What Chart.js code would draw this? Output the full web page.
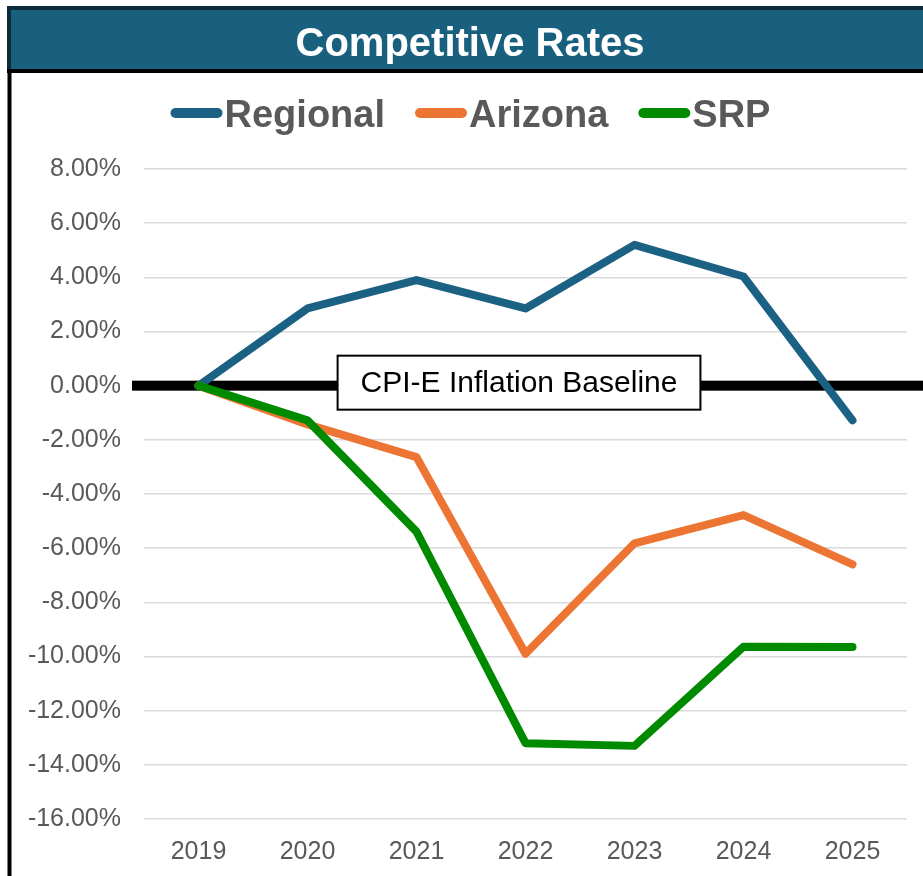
<!DOCTYPE html>
<html>
<head>
<meta charset="utf-8">
<script src="https://cdn.jsdelivr.net/npm/chart.js@4/dist/chart.umd.min.js"></script>
<style>
  html, body { margin: 0; padding: 0; background: #ffffff; }
  canvas { display: block; }
</style>
</head>
<body>
<canvas id="c" width="923" height="876"></canvas>
<script>
// ---- Data ----
const categories = ['2019', '2020', '2021', '2022', '2023', '2024', '2025'];
const regional = [0, 2.85, 3.9, 2.85, 5.2, 4.03, -1.28];
const arizona  = [0, -1.43, -2.64, -9.9, -5.82, -4.78, -6.6];
const srp      = [0, -1.28, -5.39, -13.2, -13.3, -9.64, -9.65];
const yTicks   = [8, 6, 4, 2, 0, -2, -4, -6, -8, -10, -12, -14, -16];
const titleText = 'Competitive Rates';
const baselineLabel = 'CPI-E Inflation Baseline';

const FONT = '"Liberation Sans", Arial, sans-serif';
const GRAY = '#595959';

const frame = {
  id: 'frame',
  beforeDraw(chart) {
    const ctx = chart.ctx;
    const W = chart.width, H = chart.height;
    ctx.save();
    ctx.fillStyle = '#ffffff';
    ctx.fillRect(0, 0, W, H);
    // title band
    ctx.fillStyle = '#0d2b39';
    ctx.fillRect(7, 6, W - 7, 64);
    ctx.fillStyle = '#19607f';
    ctx.fillRect(11, 10, W - 11, 59);
    ctx.fillStyle = '#000000';
    ctx.fillRect(7, 69, W - 7, 4);
    // left border
    ctx.fillRect(7.5, 70, 4, H - 70);
    // title text
    ctx.fillStyle = '#ffffff';
    ctx.font = 'bold 40px ' + FONT;
    ctx.textAlign = 'center';
    ctx.textBaseline = 'alphabetic';
    ctx.fillText(titleText, 470, 56);
    ctx.restore();
  },
  beforeDatasetsDraw(chart) {
    const ctx = chart.ctx;
    const y0 = chart.scales.y.getPixelForValue(0);
    const a = chart.chartArea;
    ctx.save();
    ctx.fillStyle = '#000000';
    ctx.fillRect(a.left - 12, y0 - 5, chart.width - (a.left - 12), 10);
    ctx.restore();
  },
  afterDatasetsDraw(chart) {
    const ctx = chart.ctx;
    const a = chart.chartArea;
    const y0 = chart.scales.y.getPixelForValue(0);
    const cx = a.left + 0.4915 * (a.right - a.left);
    const cy = y0 - 3;
    ctx.save();
    ctx.font = '30px ' + FONT;
    const tw = ctx.measureText(baselineLabel).width;
    const bw = tw + 46, bh = 54;
    ctx.fillStyle = '#ffffff';
    ctx.fillRect(cx - bw / 2, cy - bh / 2, bw, bh);
    ctx.strokeStyle = '#000000';
    ctx.lineWidth = 2;
    ctx.strokeRect(cx - bw / 2, cy - bh / 2, bw, bh);
    ctx.fillStyle = '#000000';
    ctx.textAlign = 'center';
    ctx.textBaseline = 'middle';
    ctx.fillText(baselineLabel, cx, cy + 1);
    ctx.restore();
  },
  afterDraw(chart) {
    // legend
    const ctx = chart.ctx;
    const ds = chart.data.datasets;
    ctx.save();
    ctx.font = 'bold 38px ' + FONT;
    const sw = 52, gapT = 2, gapI = 30;
    const widths = ds.map(d => ctx.measureText(d.label).width);
    let total = 0;
    widths.forEach((w, i) => { total += sw + gapT + w + (i < ds.length - 1 ? gapI : 0); });
    let x = 470.5 - total / 2;
    const cy = 113;
    ds.forEach((d, i) => {
      ctx.strokeStyle = d.borderColor;
      ctx.lineWidth = 10;
      ctx.lineCap = 'round';
      ctx.beginPath();
      ctx.moveTo(x + 5, cy);
      ctx.lineTo(x + sw - 5, cy);
      ctx.stroke();
      ctx.fillStyle = GRAY;
      ctx.textAlign = 'left';
      ctx.textBaseline = 'alphabetic';
      ctx.fillText(d.label, x + sw + gapT, 127);
      x += sw + gapT + widths[i] + gapI;
    });
    ctx.restore();
  }
};

new Chart(document.getElementById('c'), {
  type: 'line',
  data: {
    labels: categories,
    datasets: [
      { label: 'Regional', data: regional, borderColor: '#1b6184', order: 3 },
      { label: 'Arizona', data: arizona, borderColor: '#ed7533', order: 2 },
      { label: 'SRP', data: srp, borderColor: '#008a00', order: 1 }
    ].map(d => Object.assign(d, {
      borderWidth: 8, pointRadius: 0, pointHoverRadius: 0, tension: 0,
      fill: false, borderCapStyle: 'round', borderJoinStyle: 'round'
    }))
  },
  options: {
    responsive: false,
    animation: false,
    devicePixelRatio: 1,
    layout: { padding: { top: 169, right: 16, bottom: 11, left: 0 } },
    plugins: { legend: { display: false }, title: { display: false }, tooltip: { enabled: false } },
    scales: {
      x: {
        offset: true,
        afterFit(axis) { axis.height = 46; },
        grid: { display: false, drawTicks: false },
        border: { display: false },
        ticks: { color: GRAY, font: { family: FONT, size: 25 }, padding: 18, maxRotation: 0 }
      },
      y: {
        min: Math.min(...yTicks), max: Math.max(...yTicks),
        afterBuildTicks(axis) { axis.ticks = yTicks.map(v => ({ value: v })); },
        afterFit(axis) { axis.width = 144; },
        grid: { color: '#d9d9d9', lineWidth: 1.5, drawTicks: false },
        border: { display: false },
        ticks: {
          color: GRAY, font: { family: FONT, size: 25 }, padding: 23,
          callback: v => v.toFixed(2) + '%'
        }
      }
    }
  },
  plugins: [frame]
});
</script>
</body>
</html>
